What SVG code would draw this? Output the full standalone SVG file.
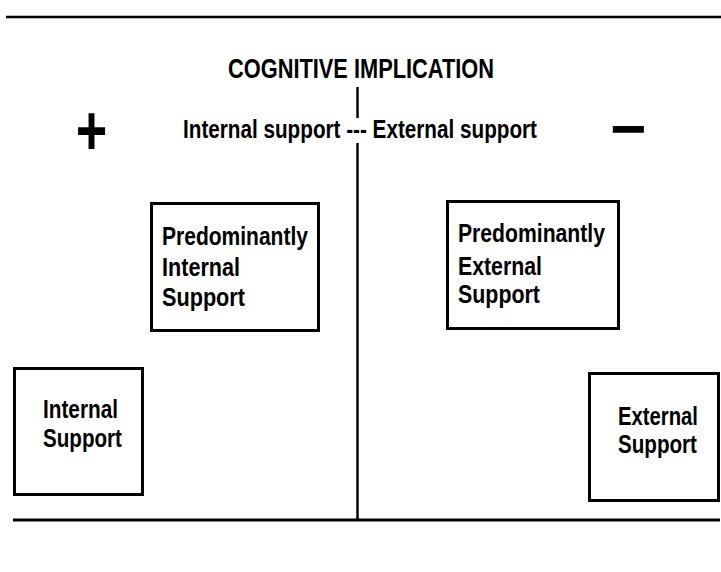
<svg xmlns="http://www.w3.org/2000/svg" width="721" height="572" viewBox="0 0 721 572">
<style>
.t{font-family:"Liberation Sans Narrow","Liberation Sans",Arial,sans-serif;font-weight:bold;fill:#000;}
.s{font-size:25px;}
.box{fill:#fff;stroke:#000;stroke-width:3;}
.ax{stroke:#000;fill:none;}
</style>
<rect width="721" height="572" fill="#fff"/>
<g id="connectors">
<line class="ax" x1="6" y1="17" x2="721" y2="17" stroke-width="2.5"/>
<line class="ax" x1="13" y1="520" x2="720" y2="520" stroke-width="3"/>
<line class="ax" x1="357.5" y1="87" x2="357.5" y2="118" stroke-width="2.5"/>
<line class="ax" x1="357.5" y1="143" x2="357.5" y2="520" stroke-width="2.5"/>
</g>
<g id="title">
<text class="t" x="228" y="78" font-size="27" textLength="266" lengthAdjust="spacingAndGlyphs">COGNITIVE IMPLICATION</text>
</g>
<g id="axis-label">
<text class="t s" x="183" y="138" textLength="354" lengthAdjust="spacingAndGlyphs">Internal support --- External support</text>
</g>
<g id="plus">
<text class="t" transform="translate(75.7,155) scale(1,1.3)" x="0" y="0" font-size="54">+</text>
</g>
<g id="minus">
<text class="t" x="610" y="150" font-size="62">−</text>
</g>
<g id="predominantly-internal">
<rect class="box" x="151.5" y="203.5" width="167" height="127"/>
<text class="t s" x="162" y="245" textLength="146" lengthAdjust="spacingAndGlyphs">Predominantly</text>
<text class="t s" x="162" y="276" textLength="78" lengthAdjust="spacingAndGlyphs">Internal</text>
<text class="t s" x="162" y="306" textLength="83" lengthAdjust="spacingAndGlyphs">Support</text>
</g>
<g id="predominantly-external">
<rect class="box" x="447.5" y="201.5" width="171" height="127"/>
<text class="t s" x="458" y="242" textLength="147" lengthAdjust="spacingAndGlyphs">Predominantly</text>
<text class="t s" x="458" y="275" textLength="84" lengthAdjust="spacingAndGlyphs">External</text>
<text class="t s" x="458" y="303" textLength="82" lengthAdjust="spacingAndGlyphs">Support</text>
</g>
<g id="internal-support">
<rect class="box" x="14.5" y="368.5" width="128" height="126"/>
<text class="t s" x="43" y="418" textLength="75" lengthAdjust="spacingAndGlyphs">Internal</text>
<text class="t s" x="43" y="447" textLength="79" lengthAdjust="spacingAndGlyphs">Support</text>
</g>
<g id="external-support">
<rect class="box" x="589.5" y="373.5" width="129" height="127"/>
<text class="t s" x="618" y="425" textLength="80" lengthAdjust="spacingAndGlyphs">External</text>
<text class="t s" x="618" y="453" textLength="79" lengthAdjust="spacingAndGlyphs">Support</text>
</g>
</svg>
